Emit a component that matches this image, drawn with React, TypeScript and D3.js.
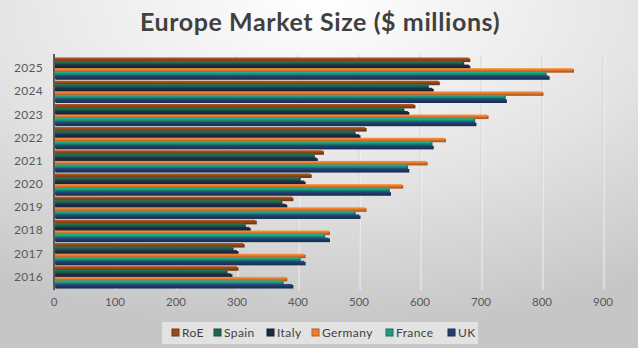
import React from "react";
import * as d3 from "d3";

const years = ["2016", "2017", "2018", "2019", "2020", "2021", "2022", "2023", "2024", "2025"];
const seriesNames = ["RoE", "Spain", "Italy", "Germany", "France", "UK"];
const seriesColors = ["#9a4b1a", "#1f6650", "#1b2a44", "#ed7d31", "#1f9c7e", "#20406e"];
const roe = [300, 310, 330, 390, 420, 440, 510, 590, 630, 680];
const spain = [282, 292, 312, 372, 402, 425, 492, 572, 612, 670];
const italy = [290, 300, 320, 380, 410, 430, 500, 580, 620, 680];
const germany = [380, 410, 450, 510, 570, 610, 640, 710, 800, 850];
const france = [374, 402, 442, 492, 548, 578, 618, 688, 738, 805];
const uk = [390, 410, 450, 500, 550, 580, 620, 690, 740, 810];
const seriesValues = [roe, spain, italy, germany, france, uk];
const xTicks = [0, 100, 200, 300, 400, 500, 600, 700, 800, 900];

const W = 638;
const H = 348;
const FONT = "Lato, 'Open Sans', sans-serif";

export default function App() {
  const x = d3.scaleLinear().domain([0, 900]).range([54, 603]);
  const yOrder = [...years].reverse();
  const y = d3.scaleBand().domain(yOrder).range([57, 288]).paddingInner(0.08).paddingOuter(0.02);
  const inner = d3.scaleBand().domain(seriesNames).range([0, y.bandwidth()]);

  const darker = (c: string) => d3.color(c)!.darker(0.8).formatHex();
  const lighter = (c: string) => d3.color(c)!.brighter(0.5).formatHex();

  return (
    <svg width={W} height={H} style={{ position: "absolute", left: 0, top: 0, display: "block" }}>
      <defs>
        <radialGradient id="bg" cx="50%" cy="0%" r="95%" fx="50%" fy="0%">
          <stop offset="0%" stopColor="#ffffff" />
          <stop offset="55%" stopColor="#e4e4e4" />
          <stop offset="100%" stopColor="#c6c6c6" />
        </radialGradient>
        {seriesColors.map((c, i) => (
          <linearGradient key={i} id={`g${i}`} x1="0" y1="0" x2="0" y2="1">
            <stop offset="0%" stopColor={lighter(c)} />
            <stop offset="45%" stopColor={c} />
            <stop offset="100%" stopColor={darker(c)} />
          </linearGradient>
        ))}
      </defs>
      <rect x={0} y={0} width={W} height={H} fill="url(#bg)" />
      <text x={320} y={31} textAnchor="middle" fontFamily={FONT} fontWeight="bold" fontSize={25} letterSpacing={0.6} fill="#404040">
        Europe Market Size ($ millions)
      </text>
      {xTicks.map((t) => (
        <g key={t}>
          {t > 0 && (
            <>
              <line x1={x(t) + 1} x2={x(t) + 1} y1={55} y2={290} stroke="#f6f6f6" strokeWidth={1} />
              <line x1={x(t)} x2={x(t)} y1={55} y2={290} stroke="#d4d4d4" strokeWidth={1} />
            </>
          )}
          <text x={x(t)} y={306} textAnchor="middle" fontFamily={FONT} fontSize={11.5} fill="#595959">
            {t}
          </text>
        </g>
      ))}
      {years.map((yr, yi) => (
        <g key={yr}>
          <text x={43} y={(y(yr) ?? 0) + y.bandwidth() / 2 + 4} textAnchor="end" fontFamily={FONT} fontSize={12} letterSpacing={0.3} fill="#595959">
            {yr}
          </text>
          {seriesNames.map((s, si) => {
            const v = seriesValues[si][yi];
            const by = (y(yr) ?? 0) + (inner(s) ?? 0);
            const bh = inner.bandwidth();
            const w = x(v) - x(0);
            return (
              <g key={s}>
                <rect x={x(0) + 1.5} y={by + 1} width={w} height={bh} fill={darker(seriesColors[si])} />
                <rect x={x(0)} y={by} width={w} height={bh} fill={`url(#g${si})`} />
              </g>
            );
          })}
        </g>
      ))}
      <line x1={54} x2={54} y1={54} y2={290} stroke="#5a5a5a" strokeWidth={2} />
      <rect x={162} y={322} width={316} height={22} fill="#e2e2e2" />
      {seriesNames.map((s, i) => {
        const lx = [172, 214, 267, 312, 386, 448][i];
        return (
          <g key={s}>
            <rect x={lx} y={329} width={7} height={7} fill={seriesColors[i]} stroke={darker(seriesColors[i])} strokeWidth={1} />
            <text x={lx + 10} y={337} fontFamily={FONT} fontSize={12} letterSpacing={0.4} fill="#404040">
              {s}
            </text>
          </g>
        );
      })}
    </svg>
  );
}
